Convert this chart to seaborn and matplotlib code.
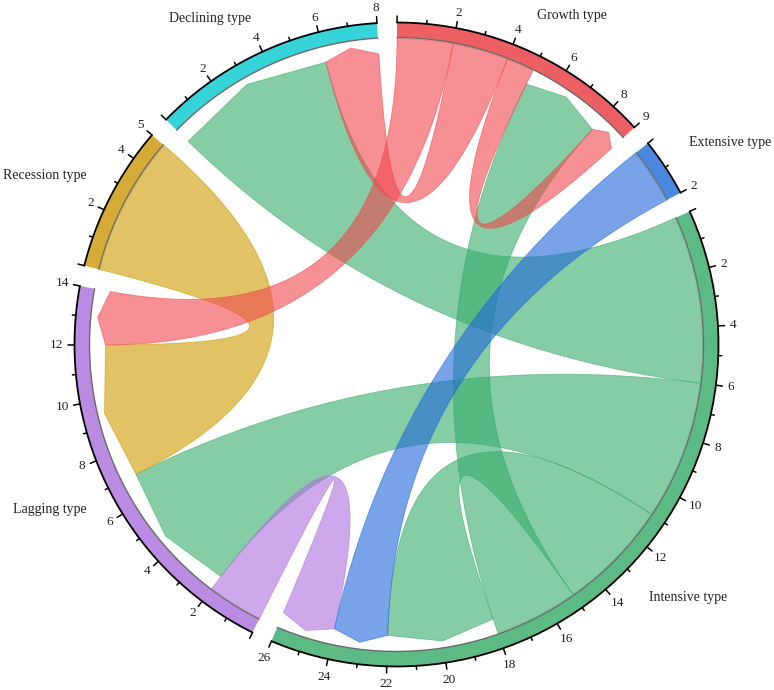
import numpy as np
import matplotlib.pyplot as plt
import seaborn as sns
from matplotlib.patches import Polygon

# sectors, clockwise from the top
sectors = ["Growth type", "Extensive type", "Intensive type",
           "Lagging type", "Recession type", "Declining type"]
sector_sizes = [9, 2, 26, 14, 5, 8]
track_colors = ["#EE5F63", "#4A88E0", "#5CBB84", "#BB8AE3", "#D6AA36", "#36D3D8"]
ribbon_colors = ["#F0474D", "#1E66DA", "#35AC69", "#AC71DE", "#CD9B00", "#20C8CE"]

# links (source -> target), width in sector units
link_source = ["Growth type", "Growth type", "Growth type", "Extensive type",
               "Intensive type", "Intensive type", "Intensive type", "Intensive type",
               "Lagging type", "Recession type"]
link_target = ["Lagging type", "Declining type", "Growth type", "Intensive type",
               "Declining type", "Lagging type", "Intensive type", "Growth type",
               "Intensive type", "Lagging type"]
link_value = [2, 2, 1, 2, 6, 5, 4, 3, 2, 5]

# order of link ends along each sector (link index, 'o' outgoing / 'i' incoming)
end_order = {
    "Growth type": [(0, "o"), (1, "o"), (2, "o"), (7, "i"), (2, "i")],
    "Extensive type": [(3, "o")],
    "Intensive type": [(4, "o"), (5, "o"), (6, "o"), (7, "o"), (6, "i"), (3, "i"), (8, "i")],
    "Lagging type": [(8, "o"), (5, "i"), (9, "i"), (0, "i")],
    "Recession type": [(9, "o")],
    "Declining type": [(4, "i"), (1, "i")],
}

# layout (pixels)
W, H = 774, 690
cx, cy = 396.5, 344.5
R_out, R_in = 322, 307
r_src, r_arrow, r_tip = 306, 291, 300
start_angle, unit, gap = 89.9, 5.28, 3.7
label_place = {  # angle, radius for sector names
    "Growth type": (62.0, 373), "Extensive type": (31.2, 390),
    "Intensive type": (-41.0, 386), "Lagging type": (205.5, 384),
    "Recession type": (154.4, 390), "Declining type": (119.8, 376),
}

sns.set_theme(style="white")
plt.rcParams["font.family"] = ["Liberation Serif", "DejaVu Serif"]

sec_start = {}
a = start_angle
for name, size in zip(sectors, sector_sizes):
    sec_start[name] = a
    a -= size * unit + gap


def ang(sector, u):
    return sec_start[sector] - u * unit


def pt(angle, r):
    t = np.radians(angle)
    return np.array([cx + r * np.cos(t), cy - r * np.sin(t)])


def arc(a0, a1, r, n=60):
    ts = np.linspace(a0, a1, n)
    return np.array([pt(t, r) for t in ts])


def bezier(p0, p2, n=80):
    c = np.array([cx, cy])
    t = np.linspace(0, 1, n)[:, None]
    return (1 - t) ** 2 * p0 + 2 * t * (1 - t) * c + t ** 2 * p2


# positions of link ends
ends = {}
for name in sectors:
    u = 0
    for idx, kind in end_order[name]:
        ends[(idx, kind)] = (u, u + link_value[idx])
        u += link_value[idx]

fig = plt.figure(figsize=(W / 100, H / 100), dpi=100)
ax = fig.add_axes([0, 0, 1, 1])
ax.set_xlim(0, W)
ax.set_ylim(H, 0)
ax.axis("off")

# ribbons
draw_order = [4, 5, 6, 7, 9, 8, 3, 0, 1, 2]
for i in draw_order:
    s, t = link_source[i], link_target[i]
    us0, us1 = ends[(i, "o")]
    ut0, ut1 = ends[(i, "i")]
    a1, a2 = ang(s, us0), ang(s, us1)
    b1, b2 = ang(t, ut0), ang(t, ut1)
    p_src = arc(a1, a2, r_src)
    e1 = bezier(pt(a2, r_src), pt(b1, r_arrow))
    tip = np.array([pt(b1, r_arrow), pt((b1 + b2) / 2, r_tip), pt(b2, r_arrow)])
    e2 = bezier(pt(b2, r_arrow), pt(a1, r_src))
    poly = np.vstack([p_src, e1, tip, e2])
    col = ribbon_colors[sectors.index(s)]
    ax.add_patch(Polygon(poly, closed=True, facecolor=col, alpha=0.6,
                         edgecolor=col, linewidth=0.6, zorder=2))

# tracks, axis and ticks
for name, size, col in zip(sectors, sector_sizes, track_colors):
    a0, a1 = ang(name, 0), ang(name, size)
    outer = arc(a0, a1, R_out)
    inner = arc(a1, a0, R_in)
    ax.add_patch(Polygon(np.vstack([outer, inner]), closed=True,
                         facecolor=col, edgecolor="none", zorder=3))
    ax.plot(inner[:, 0], inner[:, 1], color="#6a6a6a", lw=1.0, zorder=4)
    ax.plot(outer[:, 0], outer[:, 1], color="black", lw=1.3, zorder=4)
    for u in range(size + 1):
        major = (u % 2 == 0) or u == size
        ln = 6.5 if major else 3.5
        th = ang(name, u)
        p0, p1 = pt(th, R_out), pt(th, R_out + ln)
        ax.plot([p0[0], p1[0]], [p0[1], p1[1]], color="black", lw=1.1, zorder=4)
        if u > 0 and major:
            lbl = str(u)
            pl = pt(th, R_out + 15 + 3 * (len(lbl) - 1))
            ax.text(pl[0], pl[1], lbl, ha="center", va="center",
                    fontsize=9.5, color="#222222", zorder=5)
    la, lr = label_place[name]
    pl = pt(la, lr)
    ax.text(pl[0], pl[1], name, ha="center", va="center",
            fontsize=10, color="#222222", zorder=5)

fig.savefig("out.png", dpi=100)
